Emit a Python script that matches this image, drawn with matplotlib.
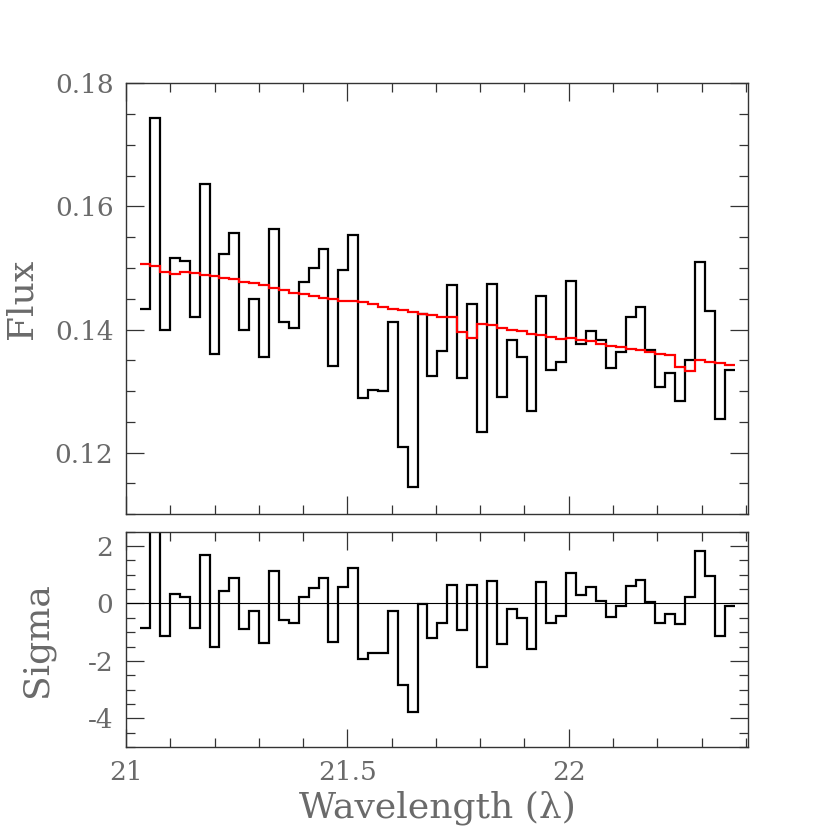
import numpy as np
import matplotlib
matplotlib.use("Agg")
import matplotlib.pyplot as plt
from matplotlib.ticker import MultipleLocator

# spectral bins (uniform in wavelength)
bin_start = 21.032
bin_width = 0.02238
n_bins = 60

# observed flux per bin
flux = [0.1433, 0.1743, 0.1400, 0.1517, 0.1512, 0.1420, 0.1637, 0.1360, 0.1522, 0.1557,
        0.1400, 0.1450, 0.1356, 0.1564, 0.1412, 0.1402, 0.1478, 0.1500, 0.1530, 0.1340,
        0.1496, 0.1554, 0.1289, 0.1302, 0.1300, 0.1412, 0.1210, 0.1144, 0.1426, 0.1325,
        0.1365, 0.1472, 0.1321, 0.1441, 0.1234, 0.1474, 0.1290, 0.1383, 0.1355, 0.1267,
        0.1454, 0.1334, 0.1348, 0.1479, 0.1376, 0.1398, 0.1383, 0.1337, 0.1364, 0.1420,
        0.1436, 0.1366, 0.1307, 0.1329, 0.1284, 0.1350, 0.1510, 0.1430, 0.1255, 0.1334]

# model flux per bin
model = [0.1506, 0.1503, 0.1494, 0.1490, 0.1494, 0.1492, 0.1489, 0.1487, 0.1483, 0.1482,
         0.1478, 0.1475, 0.1472, 0.1468, 0.1464, 0.1460, 0.1457, 0.1455, 0.1451, 0.1449,
         0.1447, 0.1446, 0.1444, 0.1441, 0.1437, 0.1434, 0.1431, 0.1429, 0.1426, 0.1424,
         0.1421, 0.1420, 0.1396, 0.1387, 0.1409, 0.1407, 0.1403, 0.1400, 0.1397, 0.1393,
         0.1391, 0.1388, 0.1385, 0.1387, 0.1383, 0.1381, 0.1377, 0.1374, 0.1371, 0.1368,
         0.1366, 0.1364, 0.1361, 0.1359, 0.1339, 0.1332, 0.1351, 0.1348, 0.1346, 0.1342]

# residuals in units of sigma
sigma = [-0.84, 2.75, -1.13, 0.32, 0.22, -0.85, 1.68, -1.51, 0.45, 0.89,
         -0.89, -0.25, -1.37, 1.14, -0.56, -0.69, 0.24, 0.53, 0.90, -1.34,
         0.59, 1.25, -1.95, -1.72, -1.72, -0.25, -2.83, -3.78, -0.02, -1.21,
         -0.69, 0.63, -0.92, 0.63, -2.20, 0.78, -1.41, -0.21, -0.52, -1.58,
         0.74, -0.67, -0.45, 1.06, 0.29, 0.59, 0.08, -0.46, -0.10, 0.60,
         0.82, 0.06, -0.67, -0.37, -0.72, 0.23, 1.84, 0.97, -1.12, -0.10]

edges = bin_start + bin_width * np.arange(n_bins + 1)

text_color = "#6a6a6a"
plt.rcParams["font.family"] = ["DejaVu Serif"]
plt.rcParams["axes.unicode_minus"] = False

fig = plt.figure(figsize=(8.3, 8.3), dpi=100)
ax1 = fig.add_axes([0.1518, 0.3804, 0.7494, 0.5193])
ax2 = fig.add_axes([0.1518, 0.1, 0.7494, 0.2594])

ax1.stairs(flux, edges, baseline=None, color="black", lw=1.6)
ax1.stairs(model, edges, baseline=None, color="red", lw=1.6)
ax2.stairs(sigma, edges, baseline=None, color="black", lw=1.6)
ax2.axhline(0, color="black", lw=0.8)

ax1.set_xlim(21.0, 22.405)
ax2.set_xlim(21.0, 22.405)
ax1.set_ylim(0.11, 0.18)
ax2.set_ylim(-5, 2.5)

for ax in (ax1, ax2):
    ax.xaxis.set_major_locator(MultipleLocator(0.5))
    ax.xaxis.set_minor_locator(MultipleLocator(0.1))
    ax.tick_params(which="both", direction="in", top=True, right=True,
                   color="#333333", width=0.9, labelcolor=text_color, labelsize=19)
    ax.tick_params(which="major", length=13, pad=9)
    ax.tick_params(which="minor", length=6.5)
    for sp in ax.spines.values():
        sp.set_color("#333333")
        sp.set_linewidth(1.0)

ax1.yaxis.set_major_locator(MultipleLocator(0.02))
ax1.yaxis.set_minor_locator(MultipleLocator(0.005))
ax1.yaxis.set_major_formatter(plt.FuncFormatter(lambda v, p: "%g" % round(v, 3)))
ax1.tick_params(labelbottom=False)

ax2.yaxis.set_major_locator(MultipleLocator(2))
ax2.yaxis.set_minor_locator(MultipleLocator(0.5))
ax2.xaxis.set_major_formatter(plt.FuncFormatter(lambda v, p: "%g" % v))

ax1.set_ylabel("Flux", fontsize=26, color=text_color, labelpad=12)
ax2.set_ylabel("Sigma", fontsize=26, color=text_color, labelpad=24)
ax2.set_xlabel("Wavelength (λ)", fontsize=26, color=text_color, labelpad=4)

fig.savefig("out.png", dpi=100)
